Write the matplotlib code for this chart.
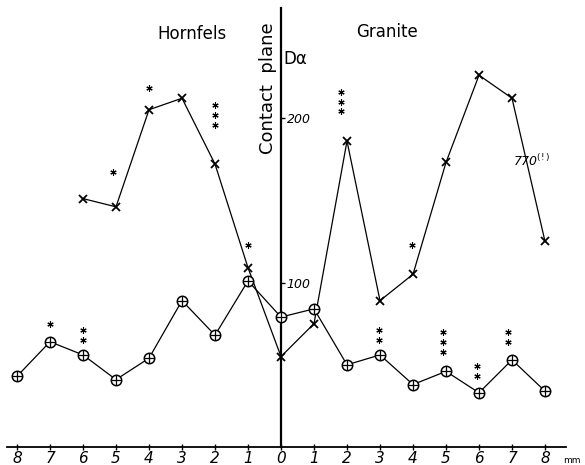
import numpy as np
import matplotlib
matplotlib.use("Agg")
import matplotlib.pyplot as plt

# distance from the contact plane in mm (hornfels negative, granite positive)
dist_x = [-6, -5, -4, -3, -2, -1, 0, 1, 2, 3, 4, 5, 6, 7, 8]
d_alpha_x = [151, 146, 205, 212, 172, 109, 55, 75, 186, 89, 105, 173, 226, 212, 125]

dist_o = [-8, -7, -6, -5, -4, -3, -2, -1, 0, 1, 2, 3, 4, 5, 6, 7, 8]
d_alpha_o = [43, 64, 56, 41, 54, 89, 68, 101, 79, 84, 50, 56, 38, 46, 33, 53, 34]

# asterisk groups: (x, centre y, count)
stars = [(-5.1, 167, 1), (-4, 218, 1), (-2, 202, 3), (-1, 123, 1), (1.82, 210, 3),
         (3.97, 123, 1), (-7, 75, 1), (-6, 68, 2), (2.97, 68, 2), (4.9, 64, 3),
         (5.94, 46, 2), (6.88, 67, 2)]

xticks = list(range(-8, 9))
xticklabels = [str(abs(t)) for t in xticks]
yticks = [100, 200]

fig = plt.figure(figsize=(5.85, 4.65), dpi=100)
ax = fig.add_axes([0, 0, 1, 1])
ax.set_xlim(-8.515, 9.212)
ax.set_ylim(-10.9, 271.7)

# axes drawn through the origin
for s in ["top", "left"]:
    ax.spines[s].set_visible(False)
ax.spines["bottom"].set_position(("data", 0))
ax.spines["bottom"].set_bounds(-8.3, 8.65)
ax.spines["right"].set_position(("data", 0))
ax.spines["right"].set_bounds(0, 267)
ax.spines["bottom"].set_linewidth(1.3)
ax.spines["right"].set_linewidth(1.6)
ax.patch.set_alpha(0)

ax.set_xticks(xticks)
ax.set_xticklabels(xticklabels, fontsize=11, style="italic")
ax.tick_params(axis="x", direction="inout", length=4, width=1, pad=1)
ax.yaxis.tick_right()
ax.set_yticks(yticks)
ax.set_yticklabels([str(t) for t in yticks], fontsize=9, style="italic")
ax.tick_params(axis="y", direction="out", length=3, width=1, pad=1)

# upper curve with crosses
ax.plot(dist_x, d_alpha_x, color="black", lw=0.9, marker="x", ms=5.5, mew=1.3, zorder=3)

# lower curve with crossed circles
ax.plot(dist_o, d_alpha_o, color="black", lw=0.9, marker="o", ms=7.5, mfc="white",
        mec="black", mew=1.1, zorder=3)
ax.plot(dist_o, d_alpha_o, ls="none", marker="+", ms=6.5, mew=0.9, color="black", zorder=4)

# significance asterisks
step = 6
for sx, sy, n in stars:
    ys = [sy + (i - (n - 1) / 2) * step for i in range(n)]
    ax.plot([sx] * n, ys, ls="none", marker=(6, 2, 0), ms=4.5, mew=0.8, color="black")

ax.text(-2.7, 251, "Hornfels", fontsize=12, ha="center", va="center")
ax.text(3.2, 252, "Granite", fontsize=12, ha="center", va="center")
ax.text(0.07, 236, "D\u03b1", fontsize=12, ha="left", va="center")
ax.text(-0.4, 218, "Contact  plane", fontsize=13, rotation=90, ha="center", va="center")
ax.text(7.6, 174, r"770$^{(!)}$", fontsize=9, style="italic", ha="center", va="center")
ax.text(8.55, -8, "mm", fontsize=6.5, ha="left", va="center")

fig.savefig("out.png", dpi=100)
